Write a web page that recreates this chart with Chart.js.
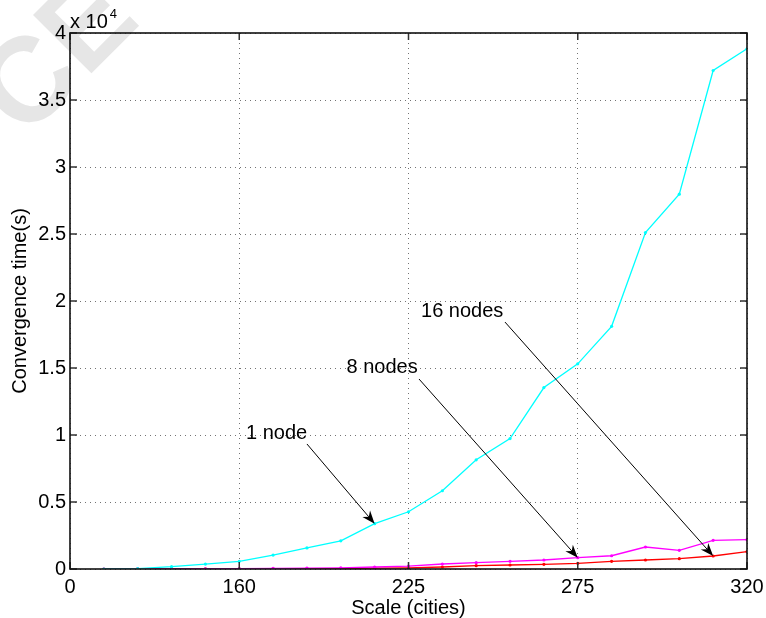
<!DOCTYPE html>
<html>
<head>
<meta charset="utf-8">
<script src="https://cdn.jsdelivr.net/npm/chart.js@4.4.1/dist/chart.umd.min.js"></script>
<style>
  html, body { margin: 0; padding: 0; background: #fff; }
  #wrap { width: 766px; height: 618px; }
</style>
</head>
<body>
<div id="wrap"><canvas id="convChart" width="766" height="618"></canvas></div>
<script>
// point positions along the x axis (evenly spaced, ticks relabelled below)
var xIndex = [1, 2, 3, 4, 5, 6, 7, 8, 9, 10, 11, 12, 13, 14, 15, 16, 17, 18, 19, 20];

var oneNode = [0, 30, 170, 370, 570, 1040, 1570, 2100, 3380, 4270, 5840, 8150, 9730, 13540, 15310, 18110, 25110, 27970, 37200, 38820];
var eightNodes = [0, 5, 10, 20, 30, 45, 60, 90, 150, 220, 373, 470, 570, 670, 845, 990, 1640, 1390, 2140, 2190];
var sixteenNodes = [0, 3, 5, 8, 12, 18, 25, 35, 60, 90, 150, 250, 300, 350, 420, 570, 670, 770, 970, 1290];

var xTickValues = [0, 5, 10, 15, 20];
var xTickLabels = ['0', '160', '225', '275', '320'];

var seriesNames = ['1 node', '8 nodes', '16 nodes'];
var seriesColors = ['#00ffff', '#ff00ff', '#ff0000'];

// text annotations with arrows, in data units
var annotLabels = ['1 node', '8 nodes', '16 nodes'];
var annotTextX = [5.2, 8.17, 10.37];
var annotTextY = [10150, 15020, 19200];
var annotFromX = [7.0, 10.31, 12.85];
var annotFromY = [9330, 14180, 18430];
var annotSeries = [0, 1, 2];
var annotPoint = [8, 14, 18];

var FONT = '"Liberation Sans", Arial, Helvetica, sans-serif';

function toPoints(values) {
    return xIndex.map(function (x, i) { return { x: x, y: values[i] }; });
}

var allSeries = [oneNode, eightNodes, sixteenNodes];
var datasets = allSeries.map(function (values, i) {
    return {
        label: seriesNames[i],
        data: toPoints(values),
        borderColor: seriesColors[i],
        backgroundColor: seriesColors[i],
        borderWidth: 1.3,
        pointRadius: 1.6,
        pointBorderWidth: 0,
        pointHoverRadius: 1.6,
        tension: 0,
        fill: false
    };
});

var matlabLook = {
    id: 'matlabLook',
    beforeDraw: function (chart) {
        var ctx = chart.ctx;
        ctx.save();
        ctx.fillStyle = '#ffffff';
        ctx.fillRect(0, 0, chart.width, chart.height);
        // faint watermark in the corner
        ctx.translate(26, 92);
        ctx.rotate(-Math.PI / 4);
        ctx.fillStyle = '#e6e6e6';
        ctx.font = 'bold 120px ' + FONT;
        ctx.textAlign = 'center';
        ctx.textBaseline = 'middle';
        ctx.fillText('CE', 48, 0);
        ctx.restore();
    },
    afterDraw: function (chart) {
        var ctx = chart.ctx;
        var area = chart.chartArea;
        var xs = chart.scales.x;
        var ys = chart.scales.y;
        ctx.save();

        // inward tick marks on all four sides
        ctx.strokeStyle = '#333';
        ctx.lineWidth = 1.5;
        ctx.beginPath();
        xTickValues.forEach(function (v) {
            var px = xs.getPixelForValue(v);
            ctx.moveTo(px, area.bottom); ctx.lineTo(px, area.bottom - 7);
            ctx.moveTo(px, area.top); ctx.lineTo(px, area.top + 7);
        });
        ys.ticks.forEach(function (t) {
            var py = ys.getPixelForValue(t.value);
            ctx.moveTo(area.left, py); ctx.lineTo(area.left + 7, py);
            ctx.moveTo(area.right, py); ctx.lineTo(area.right - 7, py);
        });
        ctx.stroke();

        // box
        ctx.strokeStyle = '#111';
        ctx.lineWidth = 1.6;
        ctx.strokeRect(area.left, area.top, area.right - area.left, area.bottom - area.top);

        // exponent label
        ctx.fillStyle = '#000';
        ctx.textBaseline = 'alphabetic';
        ctx.textAlign = 'left';
        ctx.font = '20px ' + FONT;
        ctx.fillText('x 10', area.left, 28);
        var w = ctx.measureText('x 10').width;
        ctx.font = '13px ' + FONT;
        ctx.fillText('4', area.left + w + 2, 18);

        // annotations
        ctx.font = '20px ' + FONT;
        ctx.textBaseline = 'middle';
        ctx.strokeStyle = '#000';
        ctx.fillStyle = '#000';
        ctx.lineWidth = 1;
        annotLabels.forEach(function (label, i) {
            ctx.fillText(label, xs.getPixelForValue(annotTextX[i]), ys.getPixelForValue(annotTextY[i]));
            var sx = xs.getPixelForValue(annotFromX[i]);
            var sy = ys.getPixelForValue(annotFromY[i]);
            var target = chart.getDatasetMeta(annotSeries[i]).data[annotPoint[i]];
            var tx = target.x, ty = target.y;
            var ang = Math.atan2(ty - sy, tx - sx);
            var len = 13, half = 5, notch = 9;
            var bx = tx - len * Math.cos(ang), by = ty - len * Math.sin(ang);
            var nx = tx - notch * Math.cos(ang), ny = ty - notch * Math.sin(ang);
            ctx.beginPath();
            ctx.moveTo(sx, sy);
            ctx.lineTo(nx, ny);
            ctx.stroke();
            ctx.beginPath();
            ctx.moveTo(tx, ty);
            ctx.lineTo(bx - half * Math.sin(ang), by + half * Math.cos(ang));
            ctx.lineTo(nx, ny);
            ctx.lineTo(bx + half * Math.sin(ang), by - half * Math.cos(ang));
            ctx.closePath();
            ctx.fill();
        });
        ctx.restore();
    }
};

var ctx = document.getElementById('convChart').getContext('2d');

var options = {
    responsive: false,
    animation: false,
    layout: { padding: { top: 33, right: 19, left: 0, bottom: 0 } },
    plugins: {
        legend: { display: false },
        tooltip: { enabled: false }
    },
    scales: {
        x: {
            type: 'linear',
            min: 0,
            max: 20,
            afterBuildTicks: function (scale) {
                scale.ticks = xTickValues.map(function (v) { return { value: v }; });
            },
            afterFit: function (scale) {
                scale.height = 49;
                scale.paddingLeft = 0;
                scale.paddingRight = 0;
            },
            ticks: {
                autoSkip: false,
                maxRotation: 0,
                padding: 6,
                color: '#000',
                font: { family: FONT, size: 20 },
                callback: function (v) { return xTickLabels[xTickValues.indexOf(v)]; }
            },
            grid: { color: 'rgba(0,0,0,0.55)', lineWidth: 1, drawTicks: false },
            border: { display: false, dash: [1, 4] },
            title: {
                display: true,
                text: 'Scale (cities)',
                color: '#000',
                font: { family: FONT, size: 20, lineHeight: 1 },
                padding: { top: 0, bottom: 0 }
            }
        },
        y: {
            type: 'linear',
            min: 0,
            max: 40000,
            afterFit: function (scale) {
                scale.width = 70;
                scale.paddingTop = 0;
                scale.paddingBottom = 0;
            },
            ticks: {
                stepSize: 5000,
                padding: 4,
                color: '#000',
                font: { family: FONT, size: 20 },
                callback: function (v) { return String(v / 10000); }
            },
            grid: { color: 'rgba(0,0,0,0.55)', lineWidth: 1, drawTicks: false },
            border: { display: false, dash: [1, 4] },
            title: {
                display: true,
                text: 'Convergence time(s)',
                color: '#000',
                font: { family: FONT, size: 20, lineHeight: 1 },
                padding: { top: 10, bottom: 0 }
            }
        }
    }
};

var myChart = new Chart(ctx, {
    type: 'line',
    data: { datasets: datasets },
    options: options,
    plugins: [matlabLook]
});
</script>
</body>
</html>
